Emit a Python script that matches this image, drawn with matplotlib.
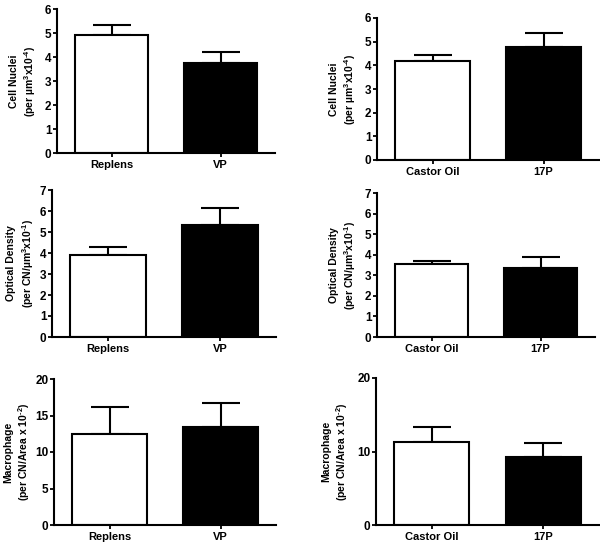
import matplotlib
matplotlib.use("Agg")
import matplotlib.pyplot as plt

plt.rcParams['font.family'] = ['Liberation Sans', 'DejaVu Sans']
plt.rcParams['font.weight'] = 'bold'
plt.rcParams['mathtext.default'] = 'regular'

## data
groups_left = ["Replens", "VP"]
groups_right = ["Castor Oil", "17P"]

nuclei_left = [4.9, 3.75]
nuclei_left_err = [0.42, 0.44]
nuclei_right = [4.18, 4.78]
nuclei_right_err = [0.26, 0.57]

od_left = [3.92, 5.35]
od_left_err = [0.38, 0.8]
od_right = [3.56, 3.35]
od_right_err = [0.12, 0.55]

mac_left = [12.5, 13.4]
mac_left_err = [3.7, 3.3]
mac_right = [11.3, 9.3]
mac_right_err = [2.0, 1.9]

lab_nuclei = "Cell Nuclei\n(per \u00b5m$^{3}$x10$^{\u2010 4}$)"
lab_od = "Optical Density\n(per CN/\u00b5m$^{3}$x10$^{\u2010 1}$)"
lab_mac = "Macrophage\n(per CN/Area x 10$^{\u2010 2}$)"

W, H = 600, 549
fig = plt.figure(figsize=(6, 5.49), dpi=100)


def panel(px, names, vals, errs, ylab, ymax, yticks, pad=5):
    # px = left, top, right, bottom in pixels
    l, t, r, b = px
    ax = fig.add_axes([l / W, 1 - b / H, (r - l) / W, (b - t) / H])
    x = list(range(len(names)))
    ax.bar(x, vals, width=0.67, color=['white', 'black'],
           edgecolor='black', linewidth=1.5, zorder=2)
    ax.errorbar(x, vals, yerr=[[0] * len(errs), errs], fmt='none',
                ecolor='black', elinewidth=1.5, capsize=14, capthick=1.5,
                zorder=1)
    ax.set_xlim(-0.5, 1.5)
    ax.set_ylim(0, ymax)
    ax.set_yticks(yticks)
    ax.set_xticks(x)
    ax.set_xticklabels(names, fontsize=8, fontweight='bold')
    ax.tick_params(axis='y', labelsize=8.5, length=3, width=1.3, pad=1)
    ax.tick_params(axis='x', length=3, width=1.3, pad=2)
    for s in ['top', 'right']:
        ax.spines[s].set_visible(False)
    for s in ['left', 'bottom']:
        ax.spines[s].set_linewidth(1.5)
    ax.set_ylabel(ylab, fontsize=7.5, fontweight='bold', labelpad=pad,
                  linespacing=1.3)
    return ax


panel((57, 9, 275, 153), groups_left, nuclei_left, nuclei_left_err,
      lab_nuclei, 6, range(0, 7))
panel((377, 18, 599, 160), groups_right, nuclei_right, nuclei_right_err,
      lab_nuclei, 6, range(0, 7))
panel((52, 190, 276, 337), groups_left, od_left, od_left_err,
      lab_od, 7, range(0, 8), pad=3)
panel((377, 193, 595, 337), groups_right, od_right, od_right_err,
      lab_od, 7, range(0, 8))
panel((54, 379, 276, 525), groups_left, mac_left, mac_left_err,
      lab_mac, 20, range(0, 21, 5), pad=2)
panel((376, 378, 599, 525), groups_right, mac_right, mac_right_err,
      lab_mac, 20, range(0, 21, 10))

fig.savefig("out.png", dpi=100, facecolor='white')
